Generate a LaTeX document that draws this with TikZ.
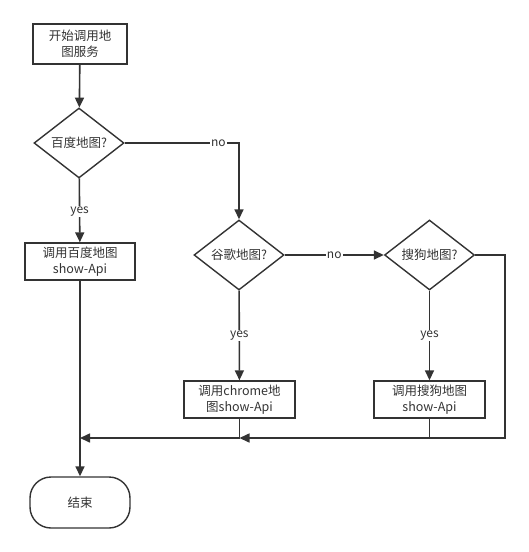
\documentclass[tikz,border=0pt]{standalone}
\usepackage{fontspec}
\setmainfont{Noto Sans CJK SC}
\usetikzlibrary{shapes.geometric,arrows.meta}
\definecolor{ink}{HTML}{333333}
\begin{document}
\begin{tikzpicture}[x=1pt,y=-1pt,
  every node/.style={text=ink, font=\fontsize{12.5}{16}\selectfont},
  box/.style={draw=ink, line width=1.4pt, rectangle, inner sep=0pt, align=center},
  dec/.style={draw=ink, line width=1.4pt, diamond, minimum width=90pt, minimum height=70pt, inner sep=0pt},
  term/.style={draw=ink, line width=1.4pt, rectangle, rounded corners=21pt, minimum width=100pt, minimum height=51pt},
  conn/.style={draw=ink, line width=1.6pt},
  arr/.style={conn, -{Triangle[length=10pt,width=9pt]}},
  lbl/.style={fill=white, inner sep=1pt, font=\fontsize{12}{14}\selectfont}]
\useasboundingbox (0,0) rectangle (528,552);
\node[box, minimum width=94pt, minimum height=40pt] (start) at (80,44) {开始调用地\\图服务};
\node[dec] (d1) at (79,143) {百度地图?};
\node[box, minimum width=110pt, minimum height=37pt] (b1) at (80,261.5) {调用百度地图\\show-Api};
\node[dec] (d2) at (239,255) {谷歌地图?};
\node[dec] (d3) at (429.5,255) {搜狗地图?};
\node[box, minimum width=111pt, minimum height=37pt] (b2) at (239.5,399.5) {调用chrome地\\图show-Api};
\node[box, minimum width=111pt, minimum height=37pt] (b3) at (429.5,399.5) {调用搜狗地图\\show-Api};
\node[term] (end) at (80,502.5) {结束};
\coordinate (j1) at (80,438);
\coordinate (j2) at (239.5,438);
\coordinate (c) at (505,255);

\draw[arr] (start) -- (d1);
\draw[arr] (d1) -- node[lbl, pos=0.52]{yes} (b1);
\draw[arr] (d1.east) -| node[lbl, pos=0.41]{no} (d2.north);
\draw[arr] (d2) -- node[lbl]{no} (d3);
\draw[arr] (d2) -- node[lbl]{yes} (b2);
\draw[arr] (d3) -- node[lbl]{yes} (b3);
\draw[arr] (d3.east) -- (c) |- (j2);
\draw[conn] (b3.south) -- (b3.south |- j2);
\draw[arr] (b2.south) -- (j2) -- (j1);
\draw[arr] (b1) -- (end);
\end{tikzpicture}
\end{document}
